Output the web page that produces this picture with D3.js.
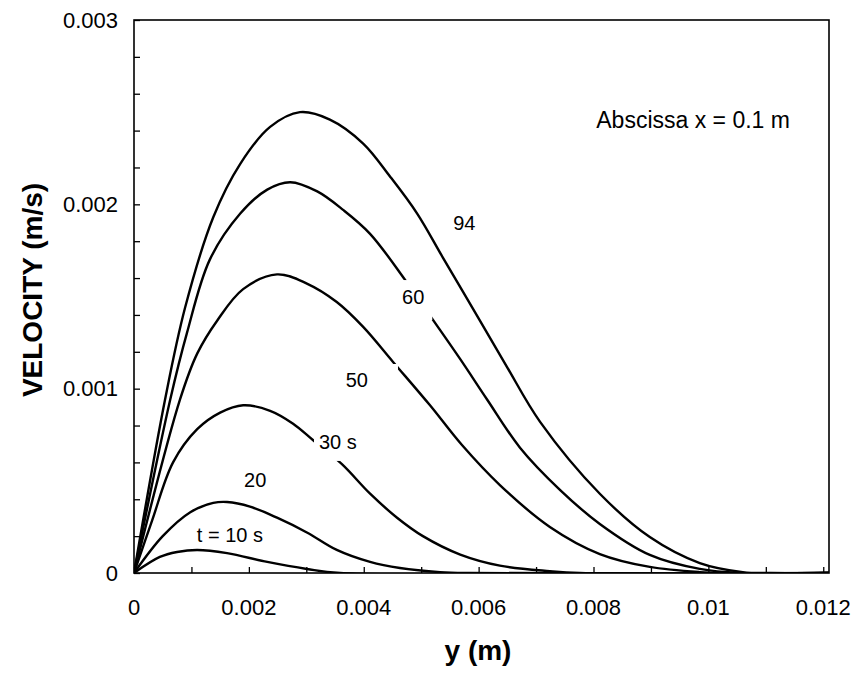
<!DOCTYPE html>
<html>
<head>
<meta charset="utf-8">
<script src="https://cdn.jsdelivr.net/npm/d3@7"></script>
<style>
  html, body { margin: 0; padding: 0; background: #fff; }
  svg { display: block; font-family: "Liberation Sans", Arial, sans-serif; }
</style>
</head>
<body>
<script>
// velocity profiles u(y) at x = 0.1 m, one array per time, [y (m), u (m/s)]
const t10 = [[0,0],[0.00045,0.000087],[0.00075,0.000114],[0.0011,0.000125],[0.00162,0.000108],[0.00232,0.00006],[0.00301,0.000022],[0.00359,0],[0.0121,0]];
const t20 = [[0,0],[0.0005,0.0002],[0.00098,0.00033],[0.00138,0.00038],[0.00162,0.000385],[0.00202,0.00036],[0.00249,0.0003],[0.00301,0.00022],[0.00353,0.000125],[0.00411,0.00006],[0.00463,0.000027],[0.00533,0.000005],[0.00585,0],[0.0121,0]];
const t30 = [[0,0],[0.00031,0.00028],[0.00068,0.0006],[0.0011,0.00078],[0.0015,0.00087],[0.0019,0.00091],[0.00237,0.00088],[0.00277,0.00081],[0.00312,0.00072],[0.00362,0.00059],[0.00411,0.00043],[0.00458,0.0003],[0.00503,0.0002],[0.00568,0.0001],[0.00637,0.00004],[0.00724,0.00001],[0.00776,0],[0.0121,0]];
const t50 = [[0,0],[0.0008,0.00094],[0.0011,0.00119],[0.00145,0.00137],[0.0019,0.00154],[0.00249,0.00162],[0.00301,0.00157],[0.00353,0.00147],[0.00399,0.001335],[0.00451,0.001145],[0.00515,0.000911],[0.00571,0.000694],[0.00637,0.000477],[0.00724,0.00025],[0.00811,0.000103],[0.00898,0.000033],[0.00985,0.000005],[0.01038,0],[0.0121,0]];
const t60 = [[0,0],[0.00063,0.00094],[0.00092,0.0013],[0.00132,0.0017],[0.00185,0.00195],[0.00232,0.00208],[0.00272,0.00212],[0.00319,0.00207],[0.00364,0.00197],[0.00411,0.00184],[0.00472,0.00159],[0.00519,0.00138],[0.00568,0.00116],[0.00615,0.00094],[0.00672,0.00068],[0.00742,0.00045],[0.00811,0.000266],[0.00898,0.000098],[0.00985,0.000022],[0.01055,0],[0.0121,0]];
const t94 = [[0,0],[0.00054,0.00094],[0.00089,0.00144],[0.00138,0.00193],[0.00185,0.00222],[0.00237,0.00242],[0.00289,0.0025],[0.00341,0.00246],[0.00399,0.00233],[0.00446,0.00215],[0.00493,0.00195],[0.00538,0.00171],[0.00602,0.00137],[0.00649,0.00112],[0.00707,0.00082],[0.00811,0.00043],[0.00898,0.000195],[0.00985,0.000054],[0.0106,0.000005],[0.01107,0],[0.0121,0]];

const series = [t10, t20, t30, t50, t60, t94];

// curve labels: text and anchor point in data units
const labelText = ["t = 10 s", "20", "30 s", "50", "60", "94"];
const labelY = [0.00167, 0.00211, 0.00355, 0.00388, 0.00486, 0.00575];
const labelU = [0.000206, 0.000505, 0.000711, 0.001047, 0.001497, 0.0019];

const xTicks = d3.range(0, 0.01201, 0.001);
const xLabels = [0, 0.002, 0.004, 0.006, 0.008, 0.01, 0.012];
const yTicks = d3.range(0, 0.003001, 0.0002);
const yLabels = [0, 0.001, 0.002, 0.003];

const width = 858, height = 673;
const margin = {top: 20, right: 29, bottom: 100, left: 134};

const x = d3.scaleLinear().domain([0, 0.0121]).range([margin.left, width - margin.right]);
const y = d3.scaleLinear().domain([0, 0.003]).range([height - margin.bottom, margin.top]);

const fmt = d => String(+d.toFixed(4));

const svg = d3.select("body").append("svg")
    .attr("width", width)
    .attr("height", height);

svg.append("clipPath").attr("id", "plot")
  .append("rect")
    .attr("x", margin.left).attr("y", margin.top)
    .attr("width", x.range()[1] - margin.left)
    .attr("height", y.range()[0] - margin.top);

const line = d3.line()
    .x(d => x(d[0]))
    .y(d => y(d[1]))
    .curve(d3.curveCatmullRom.alpha(0.5));

svg.append("g")
    .attr("clip-path", "url(#plot)")
  .selectAll("path")
  .data(series)
  .join("path")
    .attr("fill", "none")
    .attr("stroke", "#000")
    .attr("stroke-width", 2.4)
    .attr("stroke-linejoin", "round")
    .attr("d", line);

// labels sit on white boxes that break the lines, as in the original
const pads = [[3, 3, 2, 2], [3, 3, 3, 3], [5, 5, 6, 8], [4, 30, 5, 4], [5, 8, 6, 12], [3, 3, 3, 3]];
const lab = svg.append("g")
    .attr("font-size", 20)
    .attr("text-anchor", "middle")
  .selectAll("g")
  .data(labelText)
  .join("g");

lab.append("rect").attr("fill", "#fff");
lab.append("text")
    .attr("x", (d, i) => x(labelY[i]))
    .attr("y", (d, i) => y(labelU[i]))
    .attr("dy", "0.35em")
    .text(d => d);
lab.each(function(d, i) {
  const b = d3.select(this).select("text").node().getBBox();
  const p = pads[i];
  d3.select(this).select("rect")
      .attr("x", b.x - p[0]).attr("y", b.y - p[2])
      .attr("width", b.width + p[0] + p[1])
      .attr("height", b.height + p[2] + p[3]);
});

// axes
const xAxis = svg.append("g")
    .attr("transform", `translate(0,${y(0)})`)
    .call(d3.axisBottom(x).tickValues(xTicks).tickSize(-6).tickFormat(""));
const yAxis = svg.append("g")
    .attr("transform", `translate(${x(0)},0)`)
    .call(d3.axisLeft(y).tickValues(yTicks).tickSize(-6).tickFormat(""));
[xAxis, yAxis].forEach(g => {
  g.select(".domain").remove();
  g.selectAll(".tick line").attr("stroke", "#000").attr("stroke-width", 1.3);
});

svg.append("rect")
    .attr("x", x.range()[0]).attr("y", margin.top)
    .attr("width", x.range()[1] - x.range()[0])
    .attr("height", y(0) - margin.top)
    .attr("fill", "none")
    .attr("stroke", "#000")
    .attr("stroke-width", 1.6);

svg.append("g")
    .attr("font-size", 22)
    .attr("text-anchor", "middle")
  .selectAll("text")
  .data(xLabels)
  .join("text")
    .attr("x", d => x(d))
    .attr("y", y(0) + 42)
    .text(fmt);

svg.append("g")
    .attr("font-size", 22)
    .attr("text-anchor", "end")
  .selectAll("text")
  .data(yLabels)
  .join("text")
    .attr("x", x(0) - 16)
    .attr("y", d => y(d))
    .attr("dy", "0.35em")
    .text(fmt);

svg.append("text")
    .attr("x", 478)
    .attr("y", 660)
    .attr("text-anchor", "middle")
    .attr("font-size", 28)
    .attr("font-weight", "bold")
    .text("y (m)");

svg.append("text")
    .attr("transform", "translate(42,290) rotate(-90)")
    .attr("text-anchor", "middle")
    .attr("font-size", 28)
    .attr("font-weight", "bold")
    .text("VELOCITY (m/s)");

svg.append("text")
    .attr("x", x(0.01142))
    .attr("y", 128)
    .attr("text-anchor", "end")
    .attr("font-size", 23)
    .text("Abscissa x = 0.1 m");
</script>
</body>
</html>
